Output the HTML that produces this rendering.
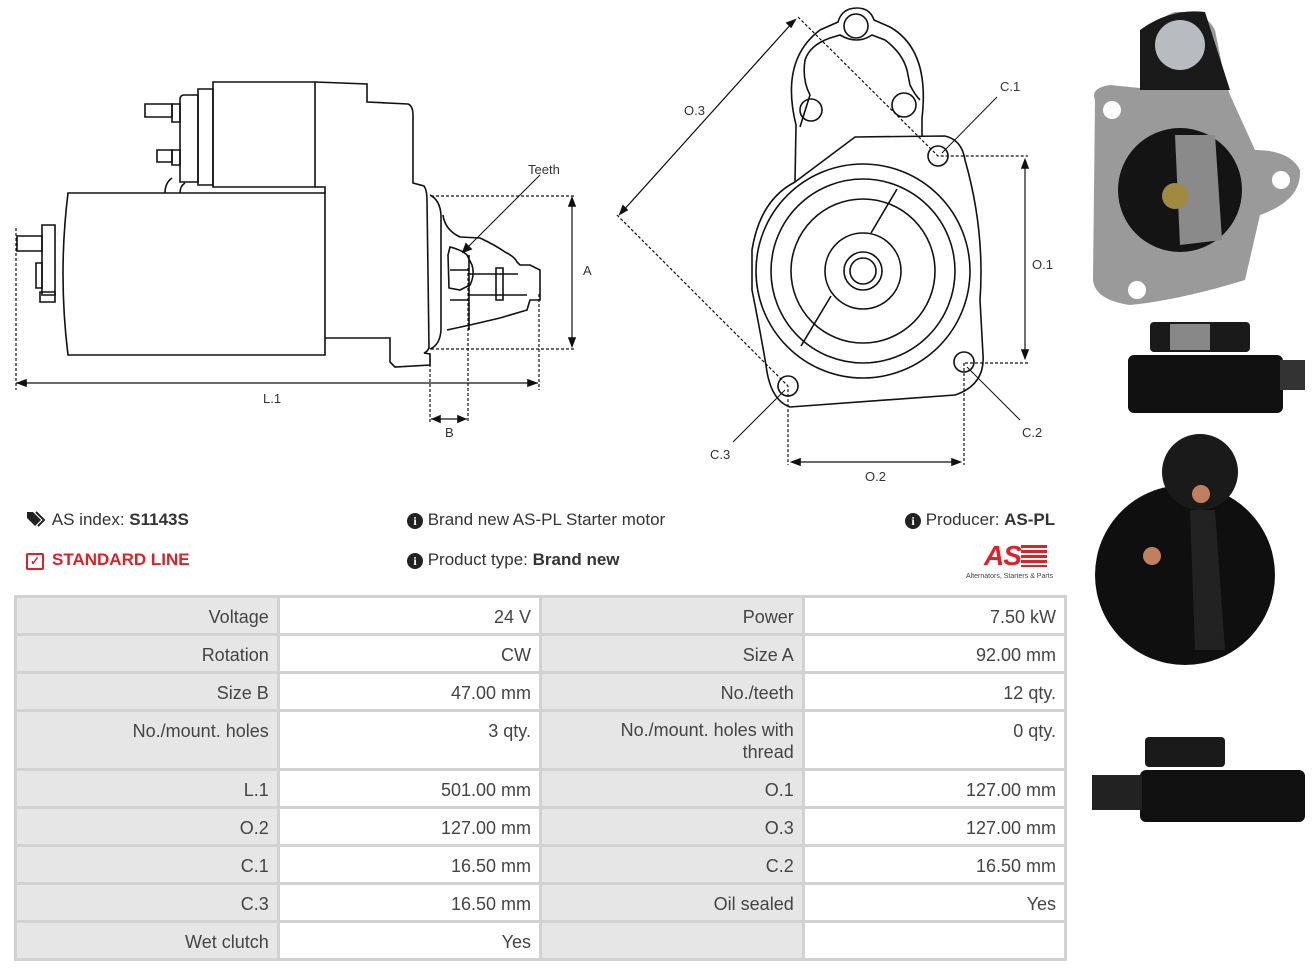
<!DOCTYPE html>
<html><head><meta charset="utf-8">
<style>
body{margin:0;width:1316px;height:973px;background:#fff;position:relative;overflow:hidden;font-family:"Liberation Sans",sans-serif;}
.t{position:absolute;font-size:17px;color:#333;white-space:nowrap}
table{position:absolute;left:14px;top:595px;border-collapse:collapse;width:1053px}
td{border:3px solid #d2d2d2;font-size:18px;color:#444;text-align:right;padding:9px 8px 0 8px;vertical-align:top;height:26px;line-height:20px}
td.l{background:#e6e6e6;width:246px}
td.v{background:#fff;width:246px}
</style></head><body>
<svg width="1316" height="973" style="position:absolute;left:0;top:0" fill="none" stroke="#111" stroke-width="1.6">
<g>
<path d="M68 193 L325 193 L325 355 L68 355 Q58 274 68 193Z"/>
<path d="M213 82 L315 82 L315 187 L213 187Z"/>
<path d="M198 89 L213 89 L213 185 L198 185Z"/>
<path d="M184 95 Q180 95 180 100 L180 182 L198 182 L198 95Z"/>
<path d="M315 82 L367 84 L367 102 L408 104 Q413 106 413 115 L413 183 L424 186 Q427 190 427 200 L429 348 Q427 352 424 353 L430 354 L430 365 L395 367 L390 362 L390 338 L325 338"/>
<path d="M315 187 L325 187 L325 193"/>
<path d="M172 104 L180 104 L180 122 L172 122Z M172 150 L180 150 L180 165 L172 165Z"/>
<path d="M145 104 L172 104 L172 117 L145 117Z M157 150 L172 150 L172 162 L157 162Z"/>
<path d="M165 193 Q165 183 172 178 M180 193 Q180 186 185 183"/>
<path d="M42 251 L42 236 L17 236 L17 251 Z"/>
<path d="M42 251 L42 225 L55 225 L55 295 L42 295 Z"/>
<path d="M36 263 L42 263 L42 288 L36 288 Z"/>
<path d="M40 292 L55 292 L55 302 L40 302 Z"/>
<path d="M430 195 Q440 200 441 215 L441 330 Q440 345 430 349"/>
<path d="M443 215 Q445 230 460 237 L480 238 Q495 245 505 252 Q515 257 517 262 L520 265 L530 265 L540 270 L540 300 L530 300 L527 310 L500 318 L470 325 L447 330"/>
<path d="M448 255 L450 247 Q462 250 467 255 L472 265 Q475 275 470 285 L460 290 L449 288 Z"/>
<path d="M450 270 L469 270 M450 300 L469 300 M469 255 L469 330 M469 274 L518 274 M469 295 L527 295"/>
<path d="M496 268 L503 268 L503 300 L496 300 Z"/>
<g stroke-dasharray="3,2" stroke-width="1.2">
<path d="M431 196 L574 196 M431 349 L574 349 M16 228 L16 390 M539 294 L539 390 M430 354 L430 422 M468 268 L468 422"/>
</g>
<path d="M572 198 L572 346 M16 383 L538 383 M431 419 L467 419" stroke-width="1.2"/>
<path d="M572 198 l-3 8 l6 0z M572 346 l-3 -8 l6 0z M18 383 l8 -3 l0 6z M536 383 l-8 -3 l0 6z M433 419 l7 -3 l0 6z M465 419 l-7 -3 l0 6z" fill="#111"/>
<path d="M540 175 L463 252" stroke-width="1"/>
<path d="M463 252 l3 -8 l5 5z" fill="#111"/>
</g>
<g>
<path d="M795 182 L796 125 Q780 60 820 30 L838 22 Q842 8 857 8 Q870 8 874 20 L890 27 Q930 50 922 118 L922 136"/>
<path d="M800 127 L810 95 Q802 80 805 60 Q810 45 830 38 L840 35 Q857 45 872 35 L885 40 Q905 55 908 75 L910 85 Q915 95 920 100"/>
<path d="M795 182 Q760 200 752 250 L752 290 Q760 330 766 365 Q770 400 790 407 L955 395 Q985 385 983 355 L980 300 Q985 230 965 160 Q962 140 945 136 L855 137 L795 182"/>
<circle cx="863" cy="271" r="107"/><circle cx="863" cy="271" r="92"/><circle cx="863" cy="271" r="72"/>
<circle cx="863" cy="271" r="38" fill="#fff"/><circle cx="863" cy="271" r="19"/><circle cx="863" cy="271" r="13"/>
<path d="M897 189 L871 233 M831 296 L801 346"/>
<circle cx="856" cy="26" r="12"/><circle cx="811" cy="110" r="11"/><circle cx="904" cy="105" r="12"/>
<circle cx="938" cy="156" r="10"/><circle cx="964" cy="362" r="10"/><circle cx="788" cy="386" r="10"/>
<g stroke-dasharray="3,2" stroke-width="1.2">
<path d="M798 17 L938 156 L1028 156 M965 363 L1028 363 M617 215 L788 386 L788 465 M964 363 L964 465"/>
</g>
<path d="M1025 160 L1025 358 M792 462 L960 462 M793 22 L622 212" stroke-width="1.2"/>
<path d="M1025 160 l-3 8 l6 0z M1025 358 l-3 -8 l6 0z M792 462 l8 -3 l0 6z M960 462 l-8 -3 l0 6z M795 20 l-8 3 l4 4z M620 214 l3 -8 l4 4z" fill="#111"/>
<path d="M997 97 L942 153 M1020 420 L967 367 M733 442 L785 390" stroke-width="1"/>
</g>
<g fill="#333" stroke="none" font-family="Liberation Sans" font-size="13">
<text x="528" y="174">Teeth</text><text x="583" y="275">A</text><text x="263" y="403">L.1</text><text x="445" y="437">B</text>
<text x="684" y="115">O.3</text><text x="1000" y="91">C.1</text><text x="1032" y="269">O.1</text><text x="1022" y="437">C.2</text><text x="710" y="459">C.3</text><text x="865" y="481">O.2</text>
</g>
<g stroke="none">
<path d="M1095 100 Q1090 88 1110 85 L1140 88 L1140 55 Q1150 20 1175 12 Q1205 10 1215 30 L1225 80 L1230 95 L1255 150 Q1290 150 1300 170 Q1302 200 1260 215 L1245 280 Q1180 300 1130 305 Q1095 300 1093 280 Z" fill="#9a9a9a"/>
<path d="M1140 30 Q1170 8 1205 12 L1230 90 L1140 90 Z" fill="#1a1a1a"/>
<circle cx="1180" cy="45" r="25" fill="#b8bcc0"/>
<circle cx="1180" cy="190" r="62" fill="#141414"/>
<path d="M1175 135 L1215 135 L1222 240 L1180 245 Z" fill="#8a8a8a"/>
<circle cx="1175" cy="196" r="13" fill="#a08a40"/>
<circle cx="1112" cy="110" r="9" fill="#fff"/><circle cx="1281" cy="180" r="9" fill="#fff"/><circle cx="1137" cy="290" r="9" fill="#fff"/>
<rect x="1128" y="355" width="155" height="58" rx="6" fill="#111"/>
<rect x="1150" y="322" width="100" height="30" rx="4" fill="#1a1a1a"/>
<rect x="1170" y="324" width="40" height="26" fill="#888"/>
<rect x="1280" y="360" width="25" height="30" fill="#333"/>
<circle cx="1185" cy="575" r="90" fill="#0f0f0f"/>
<circle cx="1200" cy="472" r="38" fill="#1a1a1a"/>
<path d="M1190 510 L1215 510 L1225 650 L1195 650 Z" fill="#222"/>
<circle cx="1152" cy="556" r="9" fill="#c08060"/><circle cx="1201" cy="494" r="9" fill="#c08060"/>
<rect x="1140" y="770" width="165" height="52" rx="6" fill="#111"/>
<rect x="1145" y="737" width="80" height="30" rx="4" fill="#1a1a1a"/>
<rect x="1092" y="775" width="50" height="35" fill="#222"/>
</g>
</svg>
<div class="t" style="left:26px;top:510px"><svg width="22" height="18" style="vertical-align:-3px"><path d="M1 2 L1 8 L9 16 L15 10 L7 2Z" fill="#222"/><path d="M10 2 L18 10 L12 16" stroke="#222" stroke-width="2" fill="none"/></svg> AS index: <b>S1143S</b></div>
<div class="t" style="left:26px;top:550px;color:#e01f26;font-weight:bold"><span style="display:inline-block;width:14px;height:13px;border:2px solid #e01f26;border-radius:2px;font-size:12px;line-height:13px;text-align:center;margin-right:8px">✓</span>STANDARD LINE</div>
<div class="t" style="left:407px;top:510px"><span style="display:inline-block;width:16px;height:16px;border-radius:50%;background:#222;color:#fff;font-size:12px;text-align:center;line-height:16px;font-weight:bold;font-family:'Liberation Serif'">i</span> Brand new AS-PL Starter motor</div>
<div class="t" style="left:407px;top:550px"><span style="display:inline-block;width:16px;height:16px;border-radius:50%;background:#222;color:#fff;font-size:12px;text-align:center;line-height:16px;font-weight:bold;font-family:'Liberation Serif'">i</span> Product type: <b>Brand new</b></div>
<div class="t" style="left:905px;top:510px"><span style="display:inline-block;width:16px;height:16px;border-radius:50%;background:#222;color:#fff;font-size:12px;text-align:center;line-height:16px;font-weight:bold;font-family:'Liberation Serif'">i</span> Producer: <b>AS-PL</b></div>
<div style="position:absolute;left:984px;top:540px;color:#e01f26;font-weight:bold;font-style:italic;font-size:28px;letter-spacing:-1px">AS<span style="display:inline-block;width:26px;height:22px;background:repeating-linear-gradient(#e01f26 0 3px,#fff 3px 5px);vertical-align:-2px"></span></div>
<div style="position:absolute;left:966px;top:573px;font-size:7px;color:#444">Alternators, Starters &amp; Parts</div>
<table>
<tr><td class="l">Voltage</td><td class="v">24 V</td><td class="l">Power</td><td class="v">7.50 kW</td></tr>
<tr><td class="l">Rotation</td><td class="v">CW</td><td class="l">Size A</td><td class="v">92.00 mm</td></tr>
<tr><td class="l">Size B</td><td class="v">47.00 mm</td><td class="l">No./teeth</td><td class="v">12 qty.</td></tr>
<tr><td class="l" style="height:47px">No./mount. holes</td><td class="v">3 qty.</td><td class="l" style="line-height:22px;padding-top:7px">No./mount. holes with<br>thread</td><td class="v">0 qty.</td></tr>
<tr><td class="l">L.1</td><td class="v">501.00 mm</td><td class="l">O.1</td><td class="v">127.00 mm</td></tr>
<tr><td class="l">O.2</td><td class="v">127.00 mm</td><td class="l">O.3</td><td class="v">127.00 mm</td></tr>
<tr><td class="l">C.1</td><td class="v">16.50 mm</td><td class="l">C.2</td><td class="v">16.50 mm</td></tr>
<tr><td class="l">C.3</td><td class="v">16.50 mm</td><td class="l">Oil sealed</td><td class="v">Yes</td></tr>
<tr><td class="l">Wet clutch</td><td class="v">Yes</td><td class="l"></td><td class="v"></td></tr>
</table>
</body></html>
